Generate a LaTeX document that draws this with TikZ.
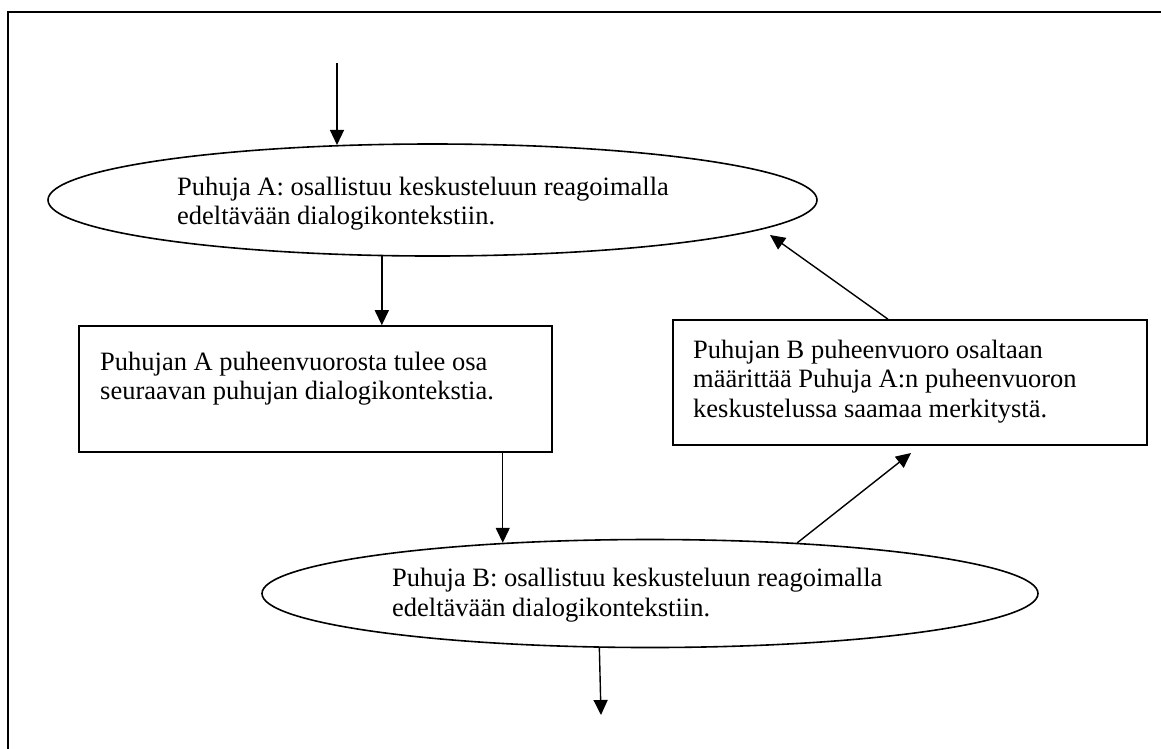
\documentclass[tikz,border=0pt]{standalone}
\usepackage{fontspec}
\setmainfont{Liberation Serif}
\usetikzlibrary{arrows.meta,shapes.geometric,calc}
\begin{document}
\begin{tikzpicture}[x=1pt,y=-1pt,
  shape line/.style={draw=black,line width=1.6pt},
  oval/.style={shape line,ellipse,inner sep=0pt},
  textbox/.style={shape line,rectangle,inner sep=0pt},
  line text/.style={anchor=base west,inner sep=0pt,font={\fontsize{26.5}{30}\selectfont}},
  link/.style={line width=1.4pt,-{Triangle[length=15pt,width=14pt]}},
]
\useasboundingbox (0,0) rectangle (1161,748);
% outer frame
\draw[line width=1.6pt] (8,770) -- (8,12) -- (1180,12);

% shapes
\node[oval, minimum width=769pt, minimum height=112pt] (eA) at (432.5,200) {};
\node[textbox, minimum width=473pt, minimum height=126pt] (bA) at (315.5,389) {};
\node[textbox, minimum width=474pt, minimum height=125pt] (bB) at (910,382.5) {};
\node[oval, minimum width=776pt, minimum height=108pt] (eB) at (650,593.5) {};

% texts
\node[line text] (tA1) at (177,195) {Puhuja A: osallistuu keskusteluun reagoimalla};
\node[line text] (tA2) at (177,224) {edeltävään dialogikontekstiin.};
\node[line text] (tBA1) at (100,370) {Puhujan A puheenvuorosta tulee osa};
\node[line text] (tBA2) at (100,399) {seuraavan puhujan dialogikontekstia.};
\node[line text] (tBB1) at (693,358) {Puhujan B puheenvuoro osaltaan};
\node[line text] (tBB2) at (693,387.5) {määrittää Puhuja A:n puheenvuoron};
\node[line text] (tBB3) at (693,417) {keskustelussa saamaa merkitystä.};
\node[line text] (tB1) at (392,586.5) {Puhuja B: osallistuu keskusteluun reagoimalla};
\node[line text] (tB2) at (392,616) {edeltävään dialogikontekstiin.};

% connectors
\coordinate (src) at (337,63);
\coordinate (sink) at (601,715);
\coordinate (tipA) at (770,235);
\coordinate (tipB) at (911,453);
\draw[link] (src) -- (src |- eA.150.5);
\draw[link] (eA.228.9) -- (eA.228.9 |- bA.north);
\draw[link] (bA.south -| eB.161.1) -- (eB.161.1);
\draw[link] (eB.227.5) -- (sink);
\draw[link] (eB.19.5) -- (tipB);
\draw[link] ($(bB.north)+(-22,0)$) -- (tipA);
\end{tikzpicture}
\end{document}
